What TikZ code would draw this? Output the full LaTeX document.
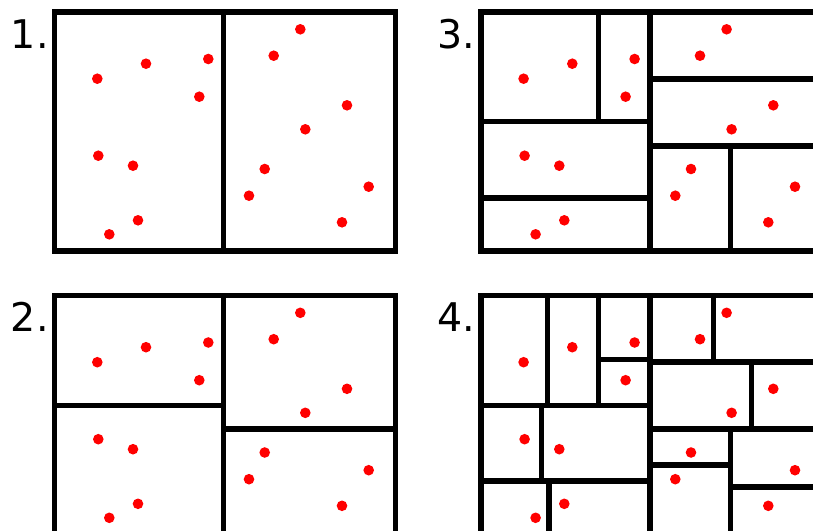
\documentclass[tikz,border=0pt]{standalone}
\usepackage{fontspec}
\setmainfont{DejaVu Sans}
\newcommand\pointcloud{%
  \foreach \px/\py in {97.3/78.7,146/63.7,208.3/59,199.3/96.7,98.3/155.7,133/165.7,138/220.3,109.3/234.3,
    300.3/29.3,273.7/55.7,347/105.3,305.3/129.3,264.7/169,249/195.7,368.7/186.7,342/222.3}
  {\fill[ptcol] (\px,\py) circle[radius=5.3pt];}}
\newcommand\outerframe{\draw[wall] (54.5,12) rectangle (395.3,251);}
\begin{document}
\begin{tikzpicture}[x=1pt,y=-1pt,
  wall/.style={line width=5.5pt,draw=black},
  ptcol/.style={fill=red},
  numlabel/.style={anchor=base west,inner sep=0pt,font=\fontsize{39.5}{40}\selectfont}]
\useasboundingbox (0,0) rectangle (813,530);
\clip (0,0) rectangle (813,530);
% panel 1
\begin{scope}
  \node[numlabel] (l1) at (10.7,48.3) {1.};
  \outerframe
  \draw[wall] (223.5,12) -- (223.5,251);
  \pointcloud
\end{scope}
% panel 2
\begin{scope}[shift={(0,283.5)}]
  \node[numlabel] (l2) at (10.7,48.3) {2.};
  \outerframe
  \draw[wall] (223.5,12) -- (223.5,251);
  \draw[wall] (54.5,122) -- (223.5,122);
  \draw[wall] (223.5,145.7) -- (395.3,145.7);
  \pointcloud
\end{scope}
% panel 3
\begin{scope}[shift={(426.3,0)}]
  \node[numlabel] (l3) at (10.7,48.3) {3.};
  \outerframe
  \draw[wall] (223.5,12) -- (223.5,251);
  \draw[wall] (54.5,121.5) -- (223.5,121.5);
  \draw[wall] (172.2,12) -- (172.2,121.5);
  \draw[wall] (54.5,198) -- (223.5,198);
  \draw[wall] (223.5,79) -- (395.3,79);
  \draw[wall] (223.5,146) -- (395.3,146);
  \draw[wall] (304,146) -- (304,251);
  \pointcloud
\end{scope}
% panel 4
\begin{scope}[shift={(426.3,283.5)}]
  \node[numlabel] (l4) at (10.7,48.3) {4.};
  \outerframe
  \draw[wall] (223.5,12) -- (223.5,251);
  \draw[wall] (121.2,12) -- (121.2,122);
  \draw[wall] (172.2,12) -- (172.2,122);
  \draw[wall] (172.2,75.8) -- (223.5,75.8);
  \draw[wall] (287.3,12) -- (287.3,78.7);
  \draw[wall] (223.5,78.7) -- (395.3,78.7);
  \draw[wall] (325.3,78.7) -- (325.3,145.5);
  \draw[wall] (223.5,145.5) -- (395.3,145.5);
  \draw[wall] (54.5,122) -- (223.5,122);
  \draw[wall] (115,122) -- (115,197.7);
  \draw[wall] (54.5,197.7) -- (223.5,197.7);
  \draw[wall] (122.7,197.7) -- (122.7,251);
  \draw[wall] (223.5,181.3) -- (304,181.3);
  \draw[wall] (304,145.5) -- (304,251);
  \draw[wall] (304,203.3) -- (395.3,203.3);
  \pointcloud
\end{scope}
\end{tikzpicture}
\end{document}
